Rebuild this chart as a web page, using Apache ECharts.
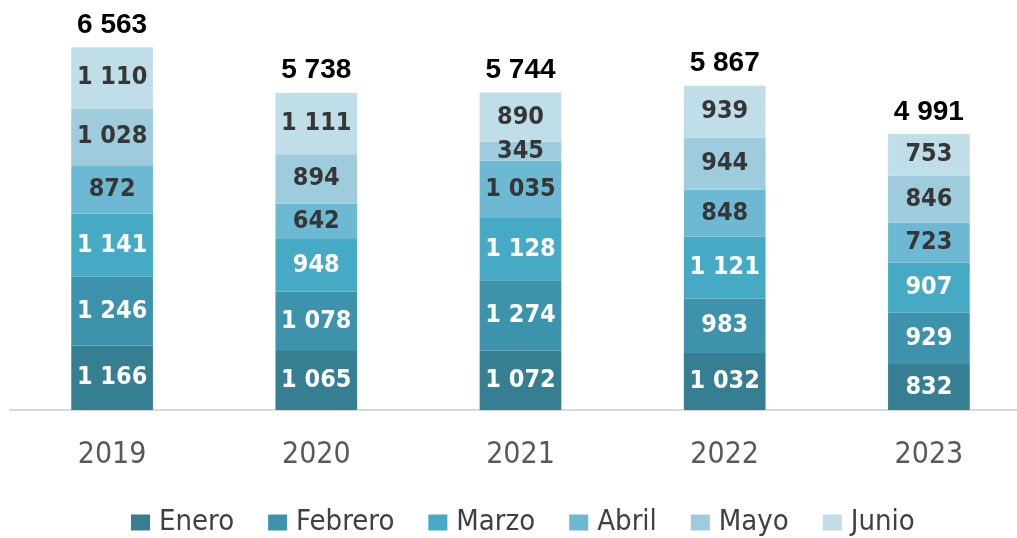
<!DOCTYPE html>
<html lang="es">
<head>
    <meta charset="UTF-8">
    <title>Totales por mes</title>
    <script src="https://cdn.jsdelivr.net/npm/echarts@6/dist/echarts.min.js"></script>
    <style>
        html, body { margin: 0; padding: 0; background: #fff; overflow: hidden; }
        #chart { width: 1040px; height: 538px; }
    </style>
</head>
<body>
    <div id="chart"></div>
    <script>
        // datos
        const years = ['2019', '2020', '2021', '2022', '2023'];
        const months = ['Enero', 'Febrero', 'Marzo', 'Abril', 'Mayo', 'Junio'];
        const enero = [1166, 1065, 1072, 1032, 832];
        const febrero = [1246, 1078, 1274, 983, 929];
        const marzo = [1141, 948, 1128, 1121, 907];
        const abril = [872, 642, 1035, 848, 723];
        const mayo = [1028, 894, 345, 944, 846];
        const junio = [1110, 1111, 890, 939, 753];
        const totals = [6563, 5738, 5744, 5867, 4991];

        const colors = ['#367e92', '#3e93ac', '#46aac4', '#6db9d3', '#9eccdd', '#c0dee8'];
        const labelColors = ['#ffffff', '#ffffff', '#ffffff', '#363636', '#363636', '#363636'];
        const narrow = '"DejaVu Sans Condensed", "Liberation Sans Narrow", sans-serif';

        // separador de miles con espacio
        const fmt = v => String(v).replace(/\B(?=(\d{3})+(?!\d))/g, ' ');

        const chart = echarts.init(document.getElementById('chart'));

        const monthSeries = [enero, febrero, marzo, abril, mayo, junio].map((data, i) => ({
            name: months[i],
            type: 'bar',
            stack: 'total',
            barWidth: '40%',
            data: data,
            itemStyle: { color: colors[i] },
            label: {
                show: true,
                position: 'inside',
                color: labelColors[i],
                fontFamily: narrow,
                fontWeight: 'bold',
                fontSize: 25,
                formatter: p => fmt(p.value)
            }
        }));

        // serie invisible para los totales encima de cada barra
        monthSeries.push({
            name: 'Total',
            type: 'bar',
            stack: 'total',
            data: totals.map(() => 0),
            itemStyle: { color: 'transparent' },
            label: {
                show: true,
                position: 'top',
                distance: 8,
                color: '#000',
                fontFamily: '"Liberation Sans", Arial, sans-serif',
                fontWeight: 'bold',
                fontSize: 28,
                formatter: p => fmt(totals[p.dataIndex])
            }
        });

        chart.setOption({
            animation: false,
            grid: { left: 10, top: 23, right: 9, bottom: 128 },
            legend: {
                data: months,
                bottom: -4,
                left: 126,
                itemWidth: 19,
                itemHeight: 16,
                itemGap: 34,
                icon: 'rect',
                textStyle: { fontFamily: narrow, fontSize: 29, color: '#404040', padding: [0, 0, 0, 4] }
            },
            xAxis: {
                type: 'category',
                data: years,
                axisLine: { lineStyle: { color: '#d9d9d9', width: 2 } },
                axisTick: { show: false },
                axisLabel: { margin: 30, fontFamily: narrow, fontSize: 30, color: '#595959' }
            },
            yAxis: {
                type: 'value',
                min: 0,
                max: 7000,
                show: false,
                splitLine: { show: false }
            },
            series: monthSeries
        });
    </script>
</body>
</html>
